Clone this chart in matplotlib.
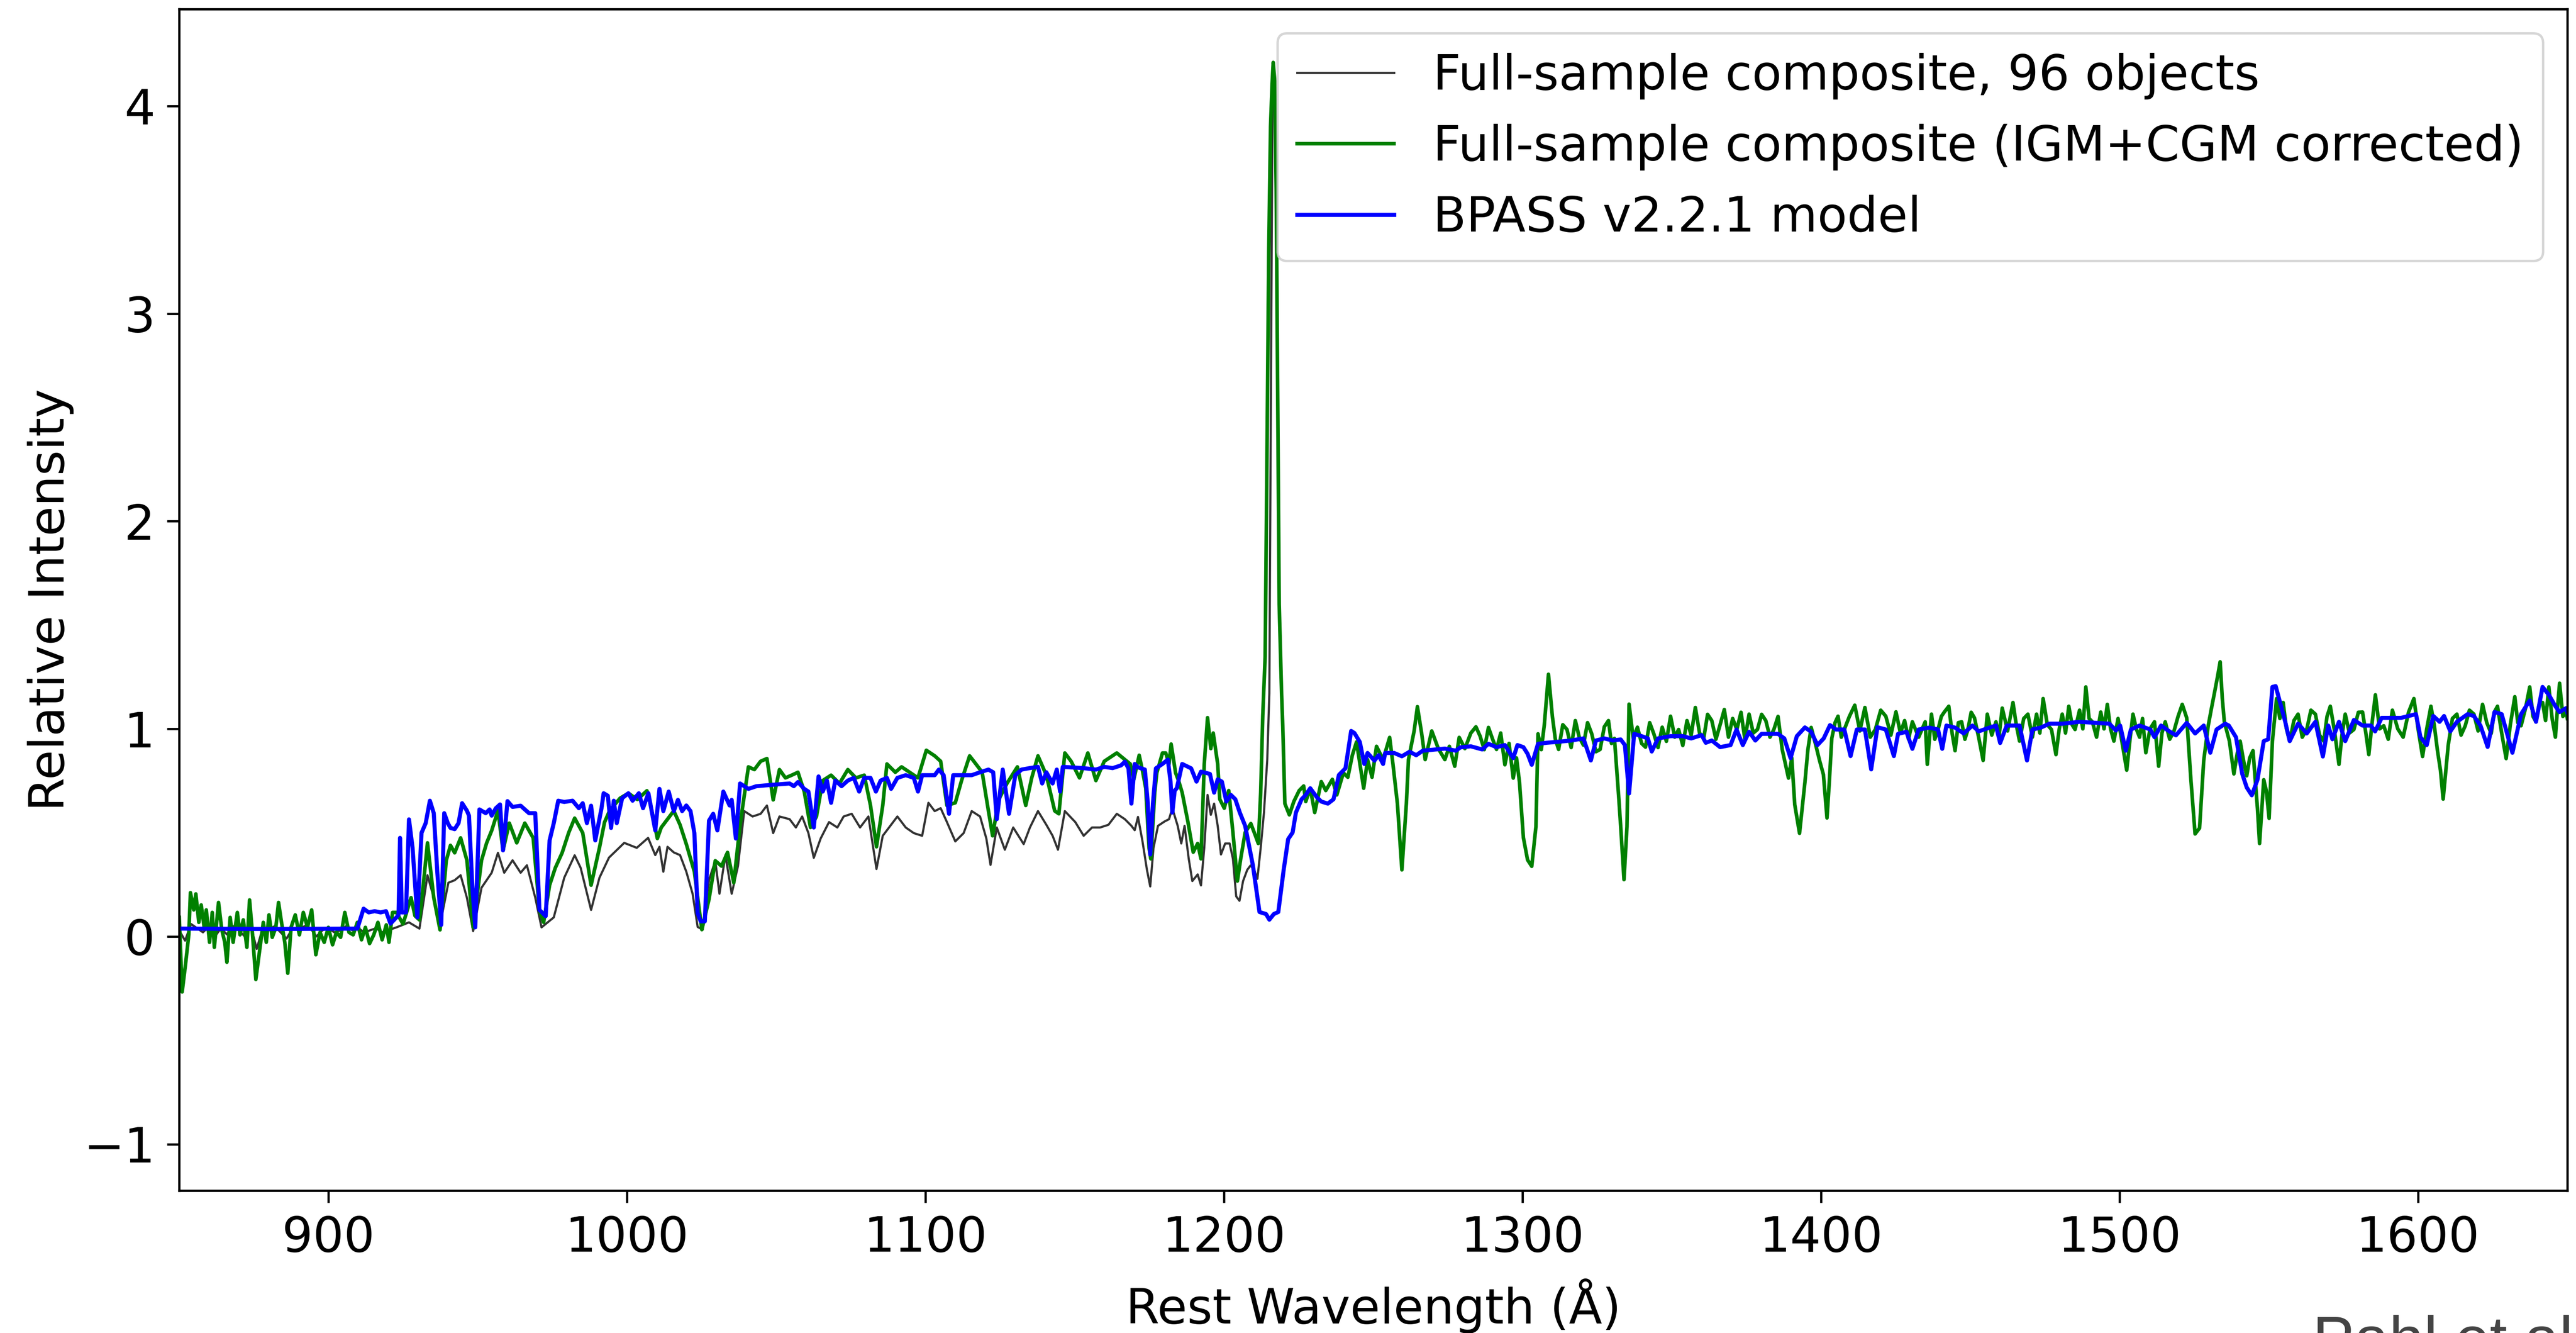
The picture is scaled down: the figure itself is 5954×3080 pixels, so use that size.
import matplotlib
matplotlib.use("Agg")
import matplotlib.pyplot as plt
import numpy as np

# ---------------- data ----------------
# Full-sample composite (IGM+CGM corrected) -- green
green_points = [
    (850.05, 0.092), (851.02, -0.267), (852.13, -0.136), (853.24, 0.008), (853.79, 0.211),
    (854.9, 0.128), (855.6, 0.205), (856.6, 0.068), (857.4, 0.152), (858.4, 0.044),
    (859.1, 0.128), (860.2, -0.028), (861.1, 0.116), (861.8, -0.052), (863.2, 0.164),
    (864.3, 0.032), (865.3, -0.028), (866.0, -0.124), (867.1, 0.092), (868.1, -0.028),
    (869.5, 0.116), (870.4, 0.008), (871.5, 0.08), (872.7, -0.052), (873.6, 0.176),
    (874.6, 0.008), (875.7, -0.207), (877.1, -0.052), (878.2, 0.068), (879.2, -0.028),
    (880.1, 0.104), (881.2, -0.004), (882.4, 0.044), (883.3, 0.164), (884.3, 0.068),
    (885.4, -0.028), (886.4, -0.177), (887.5, 0.044), (888.9, 0.104), (890.3, 0.008),
    (891.6, 0.116), (893.0, 0.044), (894.4, 0.128), (895.8, -0.088), (897.2, 0.02),
    (898.6, -0.028), (900.0, 0.044), (901.4, -0.04), (902.7, 0.02), (904.1, -0.004),
    (905.5, 0.116), (906.9, 0.02), (908.3, 0.008), (909.7, 0.068), (911.1, -0.016),
    (912.4, 0.044), (913.8, -0.034), (915.2, 0.008), (916.6, 0.068), (918.0, -0.016),
    (919.4, 0.056), (920.3, -0.028), (921.5, 0.116), (922.8, 0.116), (925.0, 0.06),
    (927.7, 0.187), (929.0, 0.1), (930.5, 0.08), (931.8, 0.25), (933.2, 0.451),
    (935.3, 0.187), (937.4, 0.032), (939.5, 0.367), (940.9, 0.439), (942.3, 0.403),
    (944.3, 0.475), (946.4, 0.367), (948.5, 0.044), (951.3, 0.367), (953.0, 0.45),
    (954.7, 0.51), (956.8, 0.606), (958.5, 0.415), (960.6, 0.546), (963.1, 0.451),
    (965.8, 0.546), (968.6, 0.475), (970.7, 0.128), (972.1, 0.068), (974.1, 0.247),
    (976.0, 0.33), (978.3, 0.403), (980.5, 0.5), (982.5, 0.57), (985.2, 0.499),
    (988.0, 0.247), (990.8, 0.427), (992.5, 0.55), (994.2, 0.606), (997.7, 0.666),
    (1000.5, 0.69), (1003.5, 0.66), (1006.7, 0.702), (1007.4, 0.671), (1010.2, 0.472),
    (1011.5, 0.525), (1013.6, 0.565), (1015.7, 0.605), (1017.8, 0.538), (1019.9, 0.445),
    (1022.6, 0.312), (1025.1, 0.033), (1027.5, 0.179), (1029.6, 0.365), (1031.7, 0.339),
    (1033.7, 0.405), (1035.8, 0.259), (1037.9, 0.538), (1040.7, 0.817), (1042.7, 0.804),
    (1044.8, 0.844), (1046.9, 0.857), (1049.0, 0.658), (1051.1, 0.804), (1053.1, 0.764),
    (1055.2, 0.777), (1057.3, 0.791), (1059.4, 0.698), (1061.5, 0.525), (1063.5, 0.578),
    (1065.6, 0.751), (1068.4, 0.777), (1071.2, 0.737), (1074.0, 0.804), (1076.7, 0.764),
    (1079.5, 0.777), (1081.6, 0.631), (1083.6, 0.432), (1085.7, 0.631), (1087.1, 0.831),
    (1089.9, 0.791), (1092.0, 0.817), (1094.7, 0.791), (1097.5, 0.764), (1100.3, 0.897),
    (1103.1, 0.87), (1105.1, 0.844), (1107.2, 0.631), (1110.0, 0.644), (1112.1, 0.751),
    (1114.8, 0.87), (1116.9, 0.831), (1119.0, 0.791), (1121.1, 0.605), (1122.5, 0.485),
    (1124.5, 0.658), (1127.3, 0.737), (1130.8, 0.817), (1133.6, 0.631), (1135.6, 0.764),
    (1137.7, 0.87), (1140.5, 0.777), (1143.3, 0.605), (1144.7, 0.591), (1146.7, 0.884),
    (1148.8, 0.844), (1151.6, 0.764), (1154.4, 0.884), (1157.1, 0.751), (1159.9, 0.844),
    (1164.1, 0.884), (1166.8, 0.852), (1168.6, 0.831), (1169.8, 0.757), (1171.6, 0.873),
    (1172.7, 0.799), (1173.8, 0.714), (1174.9, 0.427), (1175.5, 0.374), (1176.8, 0.693),
    (1177.5, 0.788), (1179.4, 0.884), (1180.5, 0.884), (1181.6, 0.831), (1182.3, 0.927),
    (1183.8, 0.788), (1184.9, 0.746), (1186.0, 0.693), (1187.9, 0.554), (1189.7, 0.406),
    (1191.2, 0.448), (1192.3, 0.374), (1193.4, 0.831), (1194.5, 1.054), (1195.6, 0.905),
    (1196.4, 0.98), (1197.9, 0.831), (1198.6, 0.661), (1200.1, 0.618), (1201.6, 0.703),
    (1203.0, 0.501), (1204.5, 0.267), (1205.6, 0.374), (1207.1, 0.501), (1209.0, 0.544),
    (1210.4, 0.491), (1211.5, 0.448), (1212.3, 0.693), (1213.0, 1.065), (1213.8, 1.35),
    (1214.4, 2.3), (1215.0, 3.3), (1215.6, 3.9), (1216.1, 4.1), (1216.5, 4.21),
    (1217.0, 4.12), (1217.5, 3.6), (1218.0, 2.6), (1218.5, 1.6), (1219.3, 1.171),
    (1219.7, 1.012), (1220.4, 0.64), (1221.9, 0.586), (1223.4, 0.65), (1225.2, 0.703),
    (1226.7, 0.725), (1227.4, 0.65), (1228.9, 0.714), (1230.4, 0.597), (1232.6, 0.746),
    (1234.1, 0.703), (1236.3, 0.757), (1237.8, 0.682), (1240.0, 0.788), (1241.5, 0.767),
    (1243.0, 0.873), (1244.4, 0.937), (1246.8, 0.714), (1248.1, 0.852), (1249.6, 0.767),
    (1251.1, 0.916), (1253.3, 0.852), (1255.5, 0.959), (1256.6, 0.831), (1258.1, 0.64),
    (1259.6, 0.321), (1261.1, 0.64), (1261.8, 0.852), (1263.7, 0.99), (1264.8, 1.107),
    (1266.2, 0.98), (1267.4, 0.852), (1269.6, 0.99), (1271.8, 0.905), (1274.0, 0.852),
    (1275.5, 0.916), (1277.3, 0.82), (1278.8, 0.959), (1280.7, 0.905), (1282.7, 0.98),
    (1284.4, 1.01), (1285.8, 0.965), (1287.2, 0.90), (1288.6, 1.007), (1290.0, 0.95),
    (1291.3, 0.901), (1292.7, 0.98), (1294.1, 0.827), (1295.5, 0.93), (1296.9, 0.763),
    (1298.0, 0.86), (1299.0, 0.742), (1300.3, 0.476), (1301.7, 0.369), (1303.1, 0.338),
    (1304.5, 0.529), (1305.2, 0.976), (1306.3, 0.90), (1307.3, 1.018), (1308.7, 1.263),
    (1310.0, 1.061), (1311.0, 0.95), (1312.1, 0.901), (1313.5, 1.02), (1314.9, 0.997),
    (1316.3, 0.91), (1317.7, 1.04), (1319.0, 0.96), (1320.4, 0.922), (1321.8, 1.03),
    (1323.2, 0.976), (1324.6, 0.89), (1326.0, 0.901), (1327.4, 1.01), (1328.8, 1.04),
    (1329.8, 0.93), (1330.8, 0.954), (1332.2, 0.678), (1332.9, 0.529), (1334.0, 0.274),
    (1335.0, 0.529), (1335.7, 1.119), (1337.1, 0.954), (1338.5, 1.008), (1339.9, 0.93),
    (1341.2, 0.912), (1342.6, 1.03), (1344.0, 0.976), (1345.4, 0.91), (1346.8, 1.008),
    (1348.2, 0.94), (1349.6, 1.061), (1351.0, 0.96), (1352.3, 0.997), (1353.7, 0.92),
    (1355.1, 1.04), (1356.5, 0.97), (1357.9, 1.103), (1359.3, 0.98), (1360.7, 0.954),
    (1362.0, 1.07), (1363.4, 1.04), (1364.8, 0.95), (1366.2, 1.02), (1367.6, 1.093),
    (1369.0, 0.96), (1370.4, 1.05), (1371.8, 0.997), (1373.2, 1.08), (1374.5, 0.95),
    (1375.9, 1.071), (1377.3, 0.98), (1378.7, 0.997), (1380.1, 1.07), (1381.5, 1.04),
    (1382.9, 0.96), (1384.2, 0.997), (1385.6, 1.06), (1387.0, 0.901), (1389.1, 0.763),
    (1390.2, 0.86), (1391.2, 0.635), (1392.8, 0.497), (1393.7, 0.62), (1394.6, 0.742),
    (1395.6, 0.90), (1396.7, 1.007), (1398.1, 0.93), (1399.5, 0.848), (1400.8, 0.78),
    (1402.0, 0.571), (1402.8, 0.75), (1403.6, 0.954), (1404.7, 1.03), (1405.7, 1.061),
    (1406.8, 0.96), (1407.8, 0.997), (1409.5, 1.06), (1411.3, 1.114), (1413.0, 0.99),
    (1414.7, 1.103), (1416.5, 0.96), (1418.2, 0.997), (1420.0, 1.09), (1421.7, 1.061),
    (1423.4, 0.97), (1425.1, 1.082), (1426.6, 0.98), (1428.0, 1.04), (1429.3, 0.95),
    (1430.6, 1.034), (1432.7, 0.96), (1434.9, 1.034), (1435.6, 0.829), (1437.0, 1.071),
    (1438.1, 0.95), (1439.2, 0.997), (1440.3, 1.06), (1441.3, 1.081), (1442.8, 1.109),
    (1443.9, 0.98), (1444.9, 0.895), (1446.0, 1.03), (1447.1, 1.034), (1448.2, 0.95),
    (1449.2, 0.997), (1450.3, 1.08), (1451.4, 1.053), (1452.8, 0.96), (1454.3, 0.848),
    (1455.7, 1.071), (1457.2, 0.97), (1458.6, 1.034), (1459.6, 0.96), (1460.7, 1.1),
    (1462.5, 0.99), (1464.3, 1.127), (1465.4, 1.02), (1466.5, 0.941), (1467.9, 1.05),
    (1469.3, 1.071), (1470.8, 0.96), (1472.2, 1.071), (1473.3, 0.98), (1474.4, 1.146),
    (1475.8, 1.02), (1477.2, 0.997), (1478.7, 0.876), (1479.8, 1.0), (1480.8, 1.071),
    (1481.9, 0.98), (1483.0, 1.109), (1484.1, 1.02), (1485.1, 0.997), (1486.6, 1.09),
    (1487.7, 1.0), (1488.7, 1.202), (1489.8, 1.05), (1490.9, 1.034), (1492.3, 0.96),
    (1493.7, 1.081), (1494.8, 1.0), (1495.9, 1.118), (1497.0, 1.0), (1498.1, 0.941),
    (1499.5, 1.05), (1500.9, 0.93), (1502.4, 0.801), (1503.5, 0.95), (1504.5, 1.071),
    (1505.6, 1.0), (1506.7, 0.96), (1507.7, 1.05), (1508.8, 0.885), (1510.2, 1.0),
    (1511.7, 1.034), (1513.1, 0.82), (1514.2, 0.98), (1515.3, 1.034), (1516.8, 0.95),
    (1518.2, 0.988), (1519.6, 1.06), (1521.0, 1.118), (1522.5, 1.053), (1523.9, 0.755),
    (1525.3, 0.494), (1526.8, 0.522), (1528.2, 0.848), (1529.7, 1.015), (1530.8, 1.10),
    (1531.8, 1.174), (1532.8, 1.25), (1533.7, 1.323), (1534.4, 1.15), (1535.1, 1.034),
    (1536.8, 0.941), (1538.3, 0.783), (1539.4, 0.88), (1540.4, 0.941), (1541.5, 0.85),
    (1542.6, 0.774), (1543.6, 0.86), (1544.7, 0.895), (1546.2, 0.615), (1546.9, 0.448),
    (1547.6, 0.60), (1548.3, 0.755), (1549.2, 0.70), (1550.1, 0.569), (1551.2, 0.941),
    (1552.6, 1.146), (1553.7, 1.05), (1554.8, 1.127), (1555.9, 1.0), (1557.0, 0.941),
    (1558.4, 1.04), (1559.8, 1.071), (1561.2, 0.96), (1562.7, 0.997), (1564.1, 1.09),
    (1565.6, 1.071), (1567.0, 0.97), (1568.4, 0.941), (1569.5, 1.06), (1570.6, 1.109),
    (1572.0, 0.99), (1573.5, 0.829), (1574.5, 0.97), (1575.6, 1.071), (1577.0, 0.98),
    (1578.5, 0.997), (1580.0, 1.08), (1581.4, 1.081), (1582.5, 0.98), (1583.5, 0.876),
    (1584.6, 1.03), (1585.7, 1.164), (1587.1, 1.0), (1588.5, 1.015), (1590.0, 0.95),
    (1591.4, 1.09), (1593.2, 1.0), (1595.0, 0.96), (1596.8, 1.08), (1598.6, 1.146),
    (1600.0, 1.0), (1601.5, 0.867), (1602.9, 1.0), (1604.3, 1.109), (1605.4, 1.02),
    (1606.5, 0.895), (1607.5, 0.80), (1608.4, 0.662), (1609.3, 0.80), (1610.1, 0.922),
    (1611.5, 1.05), (1613.0, 1.071), (1614.4, 0.97), (1615.8, 1.015), (1617.2, 1.09),
    (1618.7, 1.071), (1620.1, 0.99), (1621.6, 1.118), (1623.0, 1.03), (1624.5, 0.978),
    (1625.5, 1.08), (1626.6, 1.109), (1628.0, 0.98), (1629.5, 0.857), (1630.9, 1.02),
    (1632.4, 1.155), (1633.4, 1.03), (1634.5, 1.015), (1636.0, 1.10), (1637.4, 1.202),
    (1638.5, 1.06), (1639.5, 1.034), (1640.6, 1.12), (1641.7, 1.127), (1642.7, 1.04),
    (1643.8, 1.202), (1644.9, 1.05), (1646.0, 0.96), (1646.7, 1.1), (1647.4, 1.22),
    (1648.5, 1.06), (1649.6, 1.081), (1650.0, 1.05),
]

# Full-sample composite, 96 objects -- dark grey (blueward of Ly-alpha; redward it equals the green one)
black_points_blue = [
    (850, 0.03), (852, -0.02), (854, 0.06), (856, 0.04), (858, 0.02), (860, 0.05),
    (862, 0.0), (864, 0.04), (866, 0.01), (868, 0.05), (870, 0.03), (872, 0.0),
    (874, 0.05), (876, -0.06), (878, 0.04), (880, 0.03), (882, 0.05), (884, 0.02),
    (886, -0.01), (888, 0.04), (890, 0.03), (892, 0.05), (894, 0.04), (896, 0.0),
    (898, 0.03), (900, 0.04), (902, 0.02), (904, 0.03), (906, 0.05), (908, 0.03),
    (910, 0.04), (912, 0.02), (914, 0.03), (916, 0.04), (918, 0.02), (920, 0.03),
    (922.8, 0.044), (927.0, 0.068), (930.5, 0.038), (933.2, 0.295), (935.3, 0.187),
    (937.4, 0.056), (940.2, 0.259), (942.3, 0.271), (944.3, 0.295), (946.4, 0.187),
    (948.5, 0.026), (951.3, 0.235), (954.7, 0.307), (956.8, 0.403), (958.9, 0.307),
    (961.7, 0.367), (964.4, 0.307), (966.5, 0.343), (969.3, 0.187), (971.4, 0.044),
    (975.5, 0.092), (979.0, 0.283), (982.5, 0.391), (984.5, 0.331), (988.0, 0.128),
    (990.8, 0.283), (994.0, 0.38), (999.1, 0.451), (1003.3, 0.427), (1007.1, 0.475),
    (1009.5, 0.392), (1010.9, 0.432), (1012.2, 0.312), (1013.6, 0.432), (1015.7, 0.405),
    (1017.8, 0.392), (1019.9, 0.312), (1022.0, 0.206), (1023.7, 0.046), (1025.4, 0.033),
    (1027.5, 0.272), (1029.6, 0.365), (1031.0, 0.206), (1033.0, 0.392), (1035.1, 0.206),
    (1037.2, 0.339), (1039.3, 0.604), (1042.1, 0.578), (1044.8, 0.591), (1046.9, 0.631),
    (1049.0, 0.498), (1051.1, 0.578), (1054.5, 0.565), (1056.6, 0.525), (1058.7, 0.578),
    (1060.8, 0.498), (1062.6, 0.379), (1064.9, 0.472), (1067.7, 0.551), (1070.5, 0.525),
    (1072.6, 0.578), (1075.3, 0.591), (1078.1, 0.525), (1080.9, 0.578), (1083.6, 0.325),
    (1085.7, 0.485), (1087.8, 0.525), (1090.6, 0.578), (1093.4, 0.525), (1096.1, 0.498),
    (1098.9, 0.485), (1101.0, 0.644), (1103.1, 0.604), (1105.1, 0.618), (1107.2, 0.551),
    (1110.0, 0.458), (1112.8, 0.498), (1115.5, 0.604), (1118.3, 0.578), (1120.4, 0.472),
    (1121.8, 0.345), (1123.9, 0.525), (1126.6, 0.418), (1129.4, 0.525), (1132.9, 0.445),
    (1135.0, 0.525), (1137.7, 0.604), (1140.5, 0.538), (1142.6, 0.485), (1144.4, 0.418),
    (1146.7, 0.604), (1150.2, 0.551), (1153.0, 0.485), (1155.8, 0.525), (1158.5, 0.525),
    (1161.3, 0.538), (1164.1, 0.591), (1166.8, 0.565), (1169.0, 0.533), (1170.1, 0.512),
    (1171.2, 0.576), (1172.7, 0.459), (1174.2, 0.321), (1175.3, 0.241), (1176.4, 0.427),
    (1177.9, 0.533), (1180.1, 0.554), (1181.6, 0.565), (1182.7, 0.618), (1184.5, 0.533),
    (1185.7, 0.448), (1186.8, 0.533), (1188.2, 0.374), (1189.4, 0.267), (1191.2, 0.299),
    (1192.3, 0.246), (1193.4, 0.427), (1194.5, 0.682), (1195.6, 0.586), (1196.7, 0.64),
    (1197.9, 0.533), (1199.0, 0.395), (1200.4, 0.448), (1201.9, 0.448), (1203.0, 0.374),
    (1204.1, 0.193), (1205.2, 0.172), (1206.4, 0.267), (1207.8, 0.321), (1208.9, 0.342),
    (1210.1, 0.321), (1211.2, 0.278), (1212.3, 0.427), (1213.4, 0.597), (1214.5, 0.852),
    (1215.2, 1.171), (1215.8, 2.8), (1216.2, 3.9),
]

# BPASS v2.2.1 model -- blue
blue_points = [
    (850.0, 0.038), (880.0, 0.036), (909.7, 0.038), (911.8, 0.134), (913.5, 0.116),
    (915.5, 0.122), (917.5, 0.116), (919.3, 0.122), (920.8, 0.062), (922.8, 0.092),
    (923.5, 0.104), (924.0, 0.475), (924.6, 0.116), (926.0, 0.116), (927.0, 0.564),
    (928.2, 0.427), (929.8, 0.092), (931.2, 0.499), (932.6, 0.546), (934.0, 0.654),
    (935.3, 0.594), (936.5, 0.307), (937.8, 0.056), (938.8, 0.594), (940.0, 0.546),
    (940.9, 0.523), (942.3, 0.517), (943.6, 0.546), (944.8, 0.642), (946.4, 0.606),
    (947.1, 0.582), (948.2, 0.247), (949.2, 0.044), (950.6, 0.612), (952.7, 0.594),
    (954.0, 0.612), (954.7, 0.582), (956.1, 0.618), (957.5, 0.636), (958.5, 0.415),
    (960.0, 0.652), (961.7, 0.624), (964.4, 0.63), (967.2, 0.594), (969.3, 0.594),
    (970.7, 0.128), (972.8, 0.098), (974.1, 0.463), (975.5, 0.546), (977.0, 0.654),
    (979.0, 0.648), (981.8, 0.654), (983.9, 0.618), (985.2, 0.642), (986.6, 0.546),
    (988.0, 0.63), (989.4, 0.463), (991.5, 0.618), (992.2, 0.69), (993.6, 0.678),
    (994.7, 0.523), (995.6, 0.654), (996.6, 0.546), (998.4, 0.666), (1000.5, 0.69),
    (1001.9, 0.654), (1004.0, 0.69), (1005.4, 0.618), (1007.2, 0.69), (1009.5, 0.511),
    (1010.9, 0.711), (1012.2, 0.604), (1014.0, 0.698), (1015.7, 0.604), (1017.1, 0.658),
    (1018.5, 0.604), (1019.9, 0.631), (1021.3, 0.604), (1022.6, 0.498), (1023.7, 0.113),
    (1024.7, 0.073), (1026.1, 0.073), (1027.5, 0.558), (1028.9, 0.591), (1030.3, 0.511),
    (1032.3, 0.698), (1034.4, 0.631), (1035.1, 0.658), (1036.5, 0.472), (1037.9, 0.737),
    (1040.7, 0.711), (1043.4, 0.724), (1049.0, 0.731), (1054.5, 0.737), (1055.9, 0.724),
    (1057.3, 0.744), (1059.4, 0.711), (1060.8, 0.698), (1062.6, 0.525), (1064.2, 0.771),
    (1065.6, 0.698), (1067.0, 0.751), (1068.4, 0.644), (1069.8, 0.751), (1071.9, 0.724),
    (1074.0, 0.751), (1076.0, 0.764), (1077.8, 0.698), (1079.5, 0.764), (1081.6, 0.764),
    (1083.4, 0.698), (1085.0, 0.751), (1087.1, 0.764), (1088.5, 0.711), (1090.6, 0.764),
    (1093.4, 0.777), (1096.1, 0.764), (1097.5, 0.698), (1098.9, 0.777), (1103.1, 0.777),
    (1104.5, 0.804), (1106.1, 0.777), (1107.9, 0.591), (1109.3, 0.777), (1115.5, 0.777),
    (1118.3, 0.791), (1121.1, 0.804), (1122.7, 0.791), (1123.9, 0.565), (1125.9, 0.804),
    (1128.0, 0.591), (1130.1, 0.777), (1132.2, 0.804), (1134.9, 0.811), (1137.7, 0.817),
    (1139.1, 0.737), (1140.5, 0.791), (1142.6, 0.737), (1144.0, 0.804), (1145.1, 0.698),
    (1146.0, 0.817), (1152.9, 0.811), (1157.1, 0.804), (1159.9, 0.817), (1162.7, 0.811),
    (1165.5, 0.824), (1166.8, 0.842), (1168.0, 0.81), (1169.0, 0.64), (1170.1, 0.831),
    (1171.2, 0.815), (1173.5, 0.804), (1174.5, 0.64), (1175.3, 0.395), (1176.2, 0.64),
    (1177.2, 0.81), (1179.4, 0.831), (1181.2, 0.852), (1182.1, 0.746), (1182.7, 0.597),
    (1183.5, 0.703), (1184.2, 0.714), (1186.0, 0.831), (1189.0, 0.81), (1190.8, 0.746),
    (1192.3, 0.794), (1195.3, 0.783), (1196.7, 0.693), (1197.9, 0.757), (1199.3, 0.746),
    (1200.8, 0.65), (1202.3, 0.682), (1203.8, 0.661), (1205.3, 0.597), (1207.1, 0.533),
    (1209.7, 0.342), (1211.9, 0.118), (1214.1, 0.108), (1215.2, 0.081), (1216.7, 0.108),
    (1218.2, 0.118), (1220.0, 0.321), (1221.5, 0.469), (1223.0, 0.501), (1224.1, 0.597),
    (1226.0, 0.661), (1227.4, 0.682), (1228.9, 0.714), (1231.1, 0.671), (1232.6, 0.65),
    (1234.8, 0.64), (1236.7, 0.661), (1238.5, 0.778), (1240.7, 0.81), (1242.6, 0.99),
    (1243.7, 0.98), (1245.5, 0.937), (1247.0, 0.831), (1248.1, 0.884), (1250.4, 0.847),
    (1251.8, 0.873), (1253.3, 0.831), (1254.0, 0.884), (1257.0, 0.884), (1259.6, 0.868),
    (1262.2, 0.89), (1264.4, 0.873), (1266.6, 0.895), (1270.3, 0.9), (1274.0, 0.905),
    (1277.7, 0.895), (1279.2, 0.911), (1282.7, 0.916), (1286.5, 0.901), (1288.6, 0.928),
    (1291.3, 0.912), (1294.1, 0.922), (1295.5, 0.891), (1296.9, 0.859), (1298.3, 0.922),
    (1300.3, 0.912), (1301.7, 0.88), (1303.1, 0.827), (1305.2, 0.928), (1308.0, 0.933),
    (1312.1, 0.938), (1316.3, 0.944), (1320.4, 0.954), (1322.9, 0.848), (1324.6, 0.944),
    (1327.4, 0.954), (1330.2, 0.944), (1332.9, 0.949), (1334.3, 0.922), (1335.7, 0.689),
    (1337.4, 0.976), (1339.9, 0.965), (1342.0, 0.954), (1343.3, 0.891), (1345.4, 0.954),
    (1349.6, 0.965), (1353.7, 0.965), (1356.5, 0.954), (1360.0, 0.97), (1361.4, 0.933),
    (1363.4, 0.944), (1366.2, 0.912), (1369.7, 0.922), (1371.7, 0.997), (1373.8, 0.922),
    (1375.9, 0.986), (1378.0, 0.944), (1380.1, 0.976), (1385.6, 0.976), (1387.7, 0.954),
    (1389.8, 0.859), (1391.9, 0.965), (1394.6, 1.007), (1396.7, 0.986), (1398.8, 0.922),
    (1400.9, 0.954), (1403.0, 1.018), (1405.0, 0.997), (1407.8, 0.997), (1409.9, 0.869),
    (1412.0, 0.997), (1414.7, 0.997), (1416.8, 0.805), (1418.9, 1.008), (1421.7, 0.997),
    (1424.4, 0.869), (1425.8, 0.976), (1428.6, 0.986), (1430.6, 0.904), (1432.7, 0.997),
    (1436.3, 1.006), (1439.2, 0.997), (1440.6, 0.904), (1442.0, 1.016), (1444.9, 1.006),
    (1447.8, 0.978), (1450.7, 1.016), (1452.8, 0.988), (1456.4, 1.006), (1458.6, 1.016),
    (1460.0, 0.932), (1462.2, 1.016), (1466.5, 1.016), (1469.0, 0.848), (1470.8, 0.997),
    (1473.6, 1.006), (1476.5, 1.025), (1480.8, 1.025), (1486.6, 1.034), (1492.3, 1.029),
    (1496.6, 1.025), (1498.8, 0.992), (1500.2, 1.016), (1502.1, 0.895), (1503.8, 0.997),
    (1506.7, 1.016), (1510.3, 0.997), (1511.7, 0.96), (1513.9, 1.016), (1516.7, 0.988),
    (1518.9, 0.969), (1522.5, 1.029), (1525.3, 0.978), (1528.2, 1.016), (1530.4, 0.885),
    (1532.5, 0.997), (1535.4, 1.025), (1536.6, 1.016), (1539.0, 0.96), (1541.1, 0.783),
    (1542.6, 0.718), (1544.3, 0.68), (1546.2, 0.755), (1548.3, 0.941), (1549.8, 0.95),
    (1551.2, 1.202), (1552.3, 1.206), (1554.1, 1.109), (1555.5, 1.034), (1557.0, 0.941),
    (1559.8, 1.025), (1562.7, 0.978), (1565.6, 1.034), (1568.1, 0.867), (1569.9, 1.016),
    (1571.3, 0.95), (1573.5, 1.034), (1575.6, 0.941), (1578.5, 1.043), (1581.4, 1.016),
    (1584.2, 1.016), (1585.6, 0.988), (1587.8, 1.053), (1591.4, 1.053), (1594.3, 1.053),
    (1599.3, 1.071), (1600.8, 0.96), (1602.9, 0.922), (1605.1, 1.062), (1607.2, 1.034),
    (1608.7, 1.062), (1610.8, 0.988), (1613.0, 1.034), (1616.6, 1.071), (1618.7, 1.062),
    (1620.9, 1.016), (1623.3, 0.913), (1625.6, 1.081), (1628.0, 1.071), (1631.6, 0.885),
    (1634.5, 1.071), (1637.4, 1.137), (1639.5, 1.034), (1641.7, 1.202), (1643.8, 1.164),
    (1646.0, 1.109), (1647.4, 1.081), (1649.6, 1.1), (1650.0, 1.08),
]

labels = ["Full-sample composite, 96 objects",
          "Full-sample composite (IGM+CGM corrected)",
          "BPASS v2.2.1 model"]
x_ticks = [900, 1000, 1100, 1200, 1300, 1400, 1500, 1600]
y_ticks = [-1, 0, 1, 2, 3, 4]

# ---------------- build series ----------------
green_wave, green_flux = (np.array(v) for v in zip(*green_points))
blue_wave, blue_flux = (np.array(v) for v in zip(*blue_points))
bw, bf = (np.array(v) for v in zip(*black_points_blue))
red_side = green_wave >= 1216.5
black_wave = np.concatenate([bw, green_wave[red_side]])
black_flux = np.concatenate([bf, green_flux[red_side]])

# ---------------- figure ----------------
W, H, DPI = 5954, 3080, 400
FS = 20.2
fig = plt.figure(figsize=(W / DPI, H / DPI), dpi=DPI)
ax = fig.add_axes([414 / W, 1 - 2751 / H, (5934 - 414) / W, (2751 - 21) / H])

ax.plot(black_wave, black_flux, color="#333333", lw=0.9, label=labels[0])
ax.plot(green_wave, green_flux, color="green", lw=1.5, label=labels[1])
ax.plot(blue_wave, blue_flux, color="blue", lw=1.7, label=labels[2])

ax.set_xlim(850, 1650)
ax.set_ylim(-1.224, 4.467)
ax.set_xticks(x_ticks)
ax.set_yticks(y_ticks)
ax.tick_params(axis="both", labelsize=FS, length=5.0, width=0.95, pad=5.0)
for s in ax.spines.values():
    s.set_linewidth(0.97)

ax.set_xlabel("Rest Wavelength (Å)", fontsize=FS)
ax.set_ylabel("Relative Intensity", fontsize=FS)
ax.xaxis.set_label_coords(0.5, -0.0744)
ax.xaxis.label.set_va("top")

ax.legend(loc="upper right", fontsize=FS)

fig.text(0.8977, -0.0205, "Pahl et al", fontsize=26, color="#444444",
         family=["Liberation Sans", "DejaVu Sans"], ha="left", va="baseline")

fig.savefig("out.png", dpi=DPI)
